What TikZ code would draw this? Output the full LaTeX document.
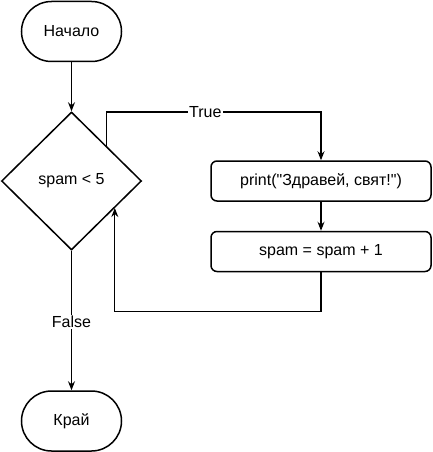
\documentclass[tikz,border=0pt]{standalone}
\usepackage{fontspec}
\newfontfamily\diagfont{Liberation Sans}
\usetikzlibrary{shapes.geometric,arrows.meta}

\begin{document}
\begin{tikzpicture}
		[x=1pt, y=-1pt, font=\diagfont\fontsize{16}{19}\selectfont,
		 term node/.style={rectangle, rounded corners=30pt, draw, line width=1.5pt, minimum width=100pt, minimum height=60pt, inner sep=0pt},
		 cond node/.style={diamond, draw, line width=1.5pt, minimum width=140pt, minimum height=138pt, inner sep=0pt},
		 step node/.style={rectangle, rounded corners=6pt, draw, line width=1.5pt, minimum width=220pt, minimum height=40pt, inner sep=0pt},
		 flow/.style={draw, line width=1.1pt, -{Stealth[length=9pt, width=7pt, inset=3pt]}},
		 lbl/.style={fill=white, inner sep=1pt}]
			\useasboundingbox (0,0) rectangle (432,452);
			\node[term node] (start) at (71.5, 31.5) {Начало};
			\node[cond node] (check) at (71.5, 181) {spam < 5};
			\node[step node] (print) at (321, 181) {print("Здравей, свят!")};
			\node[step node] (incr) at (321, 251.5) {spam = spam + 1};
			\node[term node] (end) at (71.5, 421) {Край};
			\coordinate (turn) at (321, 112);

			\path[flow] (start) -- (check);
			\path[flow] (check.north east) |- node[lbl, pos=0.73] {True} (turn) -- (print);
			\path[flow] (print) -- (incr);
			\path[flow] (incr.south) -- ++(0, 39) -| (check.-32);
			\path[flow] (check) -- node[lbl, pos=0.51] {False} (end);
		\end{tikzpicture}
\end{document}
